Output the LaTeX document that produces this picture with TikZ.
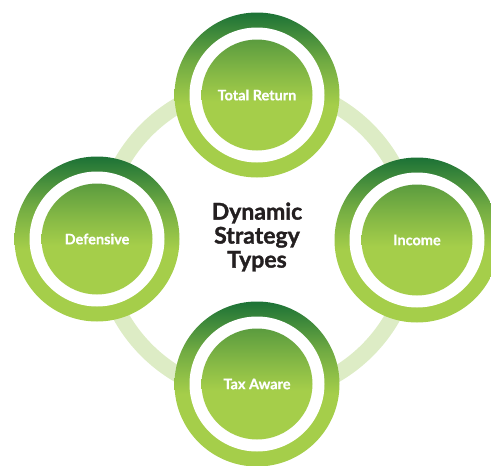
\documentclass[tikz,border=0pt]{standalone}
\usepackage{fontspec}
\setmainfont{Lato}
\newfontfamily\heavyfont{Lato}[UprightFont={* Bold}, FakeBold=1.3]
\newfontfamily\labelfont{Lato}[UprightFont={* Bold}, FakeBold=0.6]
\usetikzlibrary{shadings}
\definecolor{lgr}{HTML}{A5CE4A}
\definecolor{dgr}{HTML}{1C7236}
\definecolor{mgr}{HTML}{5B9C3F}
\definecolor{ringc}{HTML}{DDECC5}
\definecolor{txt}{HTML}{231F20}
\pgfdeclareverticalshading{outershade}{100bp}{color(0bp)=(lgr); color(47bp)=(lgr); color(60bp)=(mgr!70!lgr); color(75bp)=(dgr); color(100bp)=(dgr)}
\pgfdeclareverticalshading{innershade}{100bp}{color(0bp)=(lgr); color(47bp)=(lgr); color(59bp)=(mgr!40!lgr); color(75bp)=(mgr); color(100bp)=(mgr)}
\tikzset{
  outerdisk/.style={circle, minimum size=165pt, inner sep=0pt, shading=outershade},
  gapdisk/.style={circle, minimum size=135pt, inner sep=0pt, fill=white},
  innerdisk/.style={circle, minimum size=111pt, inner sep=0pt, shading=innershade, text=white, font=\labelfont\fontsize{14.5}{16}\selectfont},
  ringline/.style={draw=ringc, line width=16pt},
  centertext/.style={align=center, text=txt, font=\heavyfont\fontsize{23}{24}\selectfont}
}
\begin{document}
\begin{tikzpicture}[x=1pt,y=-1pt]
\useasboundingbox (0,0) rectangle (491,466);
\coordinate (c) at (257,240);
\draw[ringline] (c) circle[radius=156];
\foreach \n/\x/\y/\t in {top/257/95/Total Return, left/97/239/Defensive, right/417/240/Income, bottom/257/384/Tax Aware}{
  \node[outerdisk] (\n o) at (\x,\y) {};
  \node[gapdisk] (\n g) at (\x,\y) {};
  \node[innerdisk] (\n) at (\x,\y) {\t};
}
\node[centertext] (title) at (257,237) {Dynamic\\Strategy\\Types};
\end{tikzpicture}
\end{document}
